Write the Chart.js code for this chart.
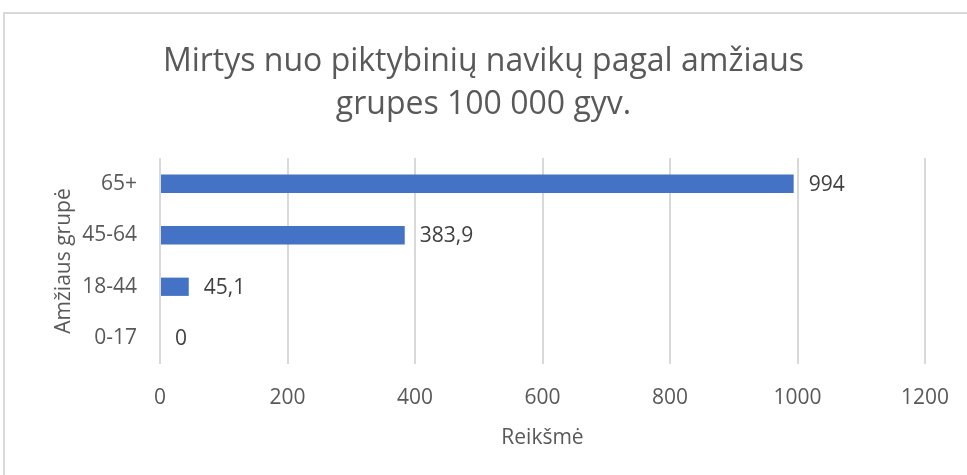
<!DOCTYPE html>
<html lang="lt">
<head>
<meta charset="utf-8">
<title>Mirtys nuo piktybinių navikų</title>
<script src="https://cdn.jsdelivr.net/npm/chart.js@4/dist/chart.umd.min.js"></script>
<style>
    html, body { margin: 0; padding: 0; background: #fff; overflow: hidden; }
    #wrap { position: relative; width: 967px; height: 475px; }
    /* remelis aplink diagrama (kaip Excel) */
    #frame { position: absolute; left: 3px; top: 12px; width: 1000px; height: 600px; border: 2px solid #d9d9d9; box-sizing: border-box; }
    #mainChart { position: absolute; left: 0; top: 0; }
</style>
</head>
<body>
<div id="wrap">
    <div id="frame"></div>
    <canvas id="mainChart" width="967" height="475"></canvas>
</div>
<script>
// Duomenys
const ageGroups = ['65+', '45-64', '18-44', '0-17'];
const deathRates = [994, 383.9, 45.1, 0];
const xTicks = [0, 200, 400, 600, 800, 1000, 1200];
const titleLines = ['Mirtys nuo piktybinių navikų pagal amžiaus', 'grupes 100 000 gyv.'];

const FONT = "'Open Sans', sans-serif";
const barColor = '#4472C4';

// Reiksmes prie stulpeliu galo (kablelis vietoj tasko)
const valueLabels = {
    id: 'valueLabels',
    afterDatasetsDraw(chart) {
        const ctx = chart.ctx;
        const meta = chart.getDatasetMeta(0);
        ctx.save();
        ctx.font = '21px ' + FONT;
        ctx.fillStyle = '#404040';
        ctx.textAlign = 'left';
        ctx.textBaseline = 'middle';
        meta.data.forEach((bar, i) => {
            const txt = String(deathRates[i]).replace('.', ',');
            ctx.fillText(txt, bar.x + 15, bar.y + 1);
        });
        ctx.restore();
    }
};

const ctx = document.getElementById('mainChart').getContext('2d');
new Chart(ctx, {
    type: 'bar',
    data: {
        labels: ageGroups,
        datasets: [{
            label: 'Reikšmė',
            data: deathRates,
            backgroundColor: barColor,
            borderWidth: 0,
            categoryPercentage: 0.5,
            barPercentage: 0.71
        }]
    },
    options: {
        indexAxis: 'y',
        responsive: false,
        animation: false,
        layout: { padding: 0 },
        plugins: {
            legend: { display: false },
            tooltip: { enabled: false },
            title: {
                display: true,
                text: titleLines,
                color: '#595959',
                font: { family: FONT, size: 32, weight: 'normal', lineHeight: 1.344 },
                padding: { top: 40, bottom: 32 }
            }
        },
        scales: {
            x: {
                min: 0,
                max: 1200,
                afterBuildTicks: axis => { axis.ticks = xTicks.map(v => ({ value: v })); },
                afterFit: axis => { axis.height = 111; axis.paddingRight = 42; },
                grid: { color: '#d9d9d9', lineWidth: 2, drawTicks: false },
                border: { display: false },
                ticks: {
                    color: '#595959',
                    font: { family: FONT, size: 21 },
                    padding: 21,
                    callback: v => String(v)
                },
                title: {
                    display: true,
                    text: 'Reikšmė',
                    color: '#595959',
                    font: { family: FONT, size: 21 },
                    padding: { top: 24, bottom: 24 }
                }
            },
            y: {
                afterFit: axis => { axis.width = 160; },
                grid: { display: false, drawTicks: false },
                border: { display: false },
                ticks: { color: '#595959', font: { family: FONT, size: 21 }, padding: 23 },
                title: {
                    display: true,
                    text: 'Amžiaus grupė',
                    color: '#595959',
                    font: { family: FONT, size: 21 },
                    padding: { top: 51, bottom: 0 }
                }
            }
        }
    },
    plugins: [valueLabels]
});
</script>
</body>
</html>
